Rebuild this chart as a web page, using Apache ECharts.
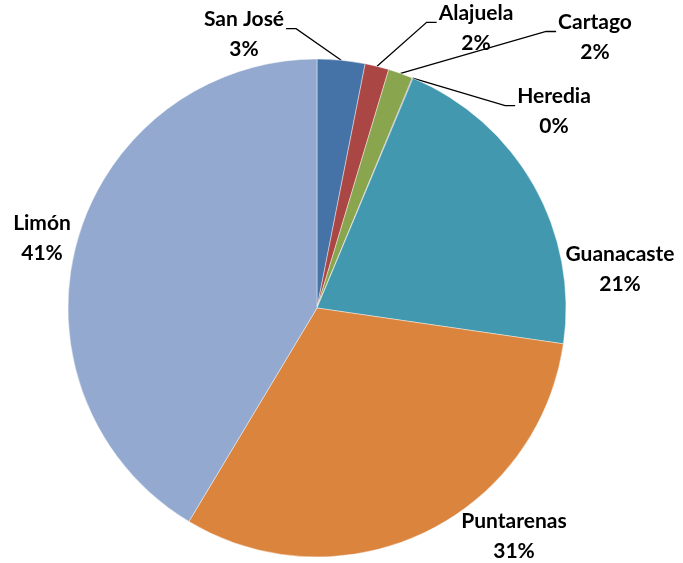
<!DOCTYPE html>
<html><head><meta charset="utf-8">
<script src="https://cdn.jsdelivr.net/npm/echarts@6/dist/echarts.min.js"></script>
<style>html,body{margin:0;padding:0;background:#fff}#c{width:683px;height:563px}</style>
</head><body><div id="c"></div>
<script>
const categories = ['San José', 'Alajuela', 'Cartago', 'Heredia', 'Guanacaste', 'Puntarenas', 'Limón'];
const values = [3.1, 1.55, 1.6, 0.05, 21.0, 31.3, 41.4];
const colors = ['#4572A7', '#AA4643', '#89A54E', '#71588F', '#4198AF', '#DB843D', '#93A9CF'];
const hasLeader = [true, true, true, true, false, false, false];
// label centre positions (layout only)
const labelX = [244, 476, 595, 554, 620, 514, 42];
const labelY = [34.7, 28.3, 37.5, 111.7, 269.2, 536, 238.3];

const chart = echarts.init(document.getElementById('c'), null, {renderer: 'canvas'});
const seriesData = categories.map((name, i) => ({
  name: name,
  value: values[i],
  itemStyle: {color: colors[i]},
  labelLine: {show: hasLeader[i]}
}));
chart.setOption({
  animation: false,
  series: [{
    type: 'pie',
    center: [317, 308],
    radius: 249,
    startAngle: 90,
    clockwise: true,
    avoidLabelOverlap: false,
    data: seriesData,
    itemStyle: {borderColor: 'rgba(255,255,255,0.7)', borderWidth: 0.6},
    label: {
      show: true, position: 'outside',
      formatter: p => p.name + '\n' + Math.round(p.percent) + '%',
      fontFamily: 'Lato', fontWeight: 'bold', fontSize: 21, lineHeight: 30,
      color: '#000', align: 'center'
    },
    labelLine: {show: true, length: 10, length2: 10, lineStyle: {color: '#000', width: 1.3}},
    emphasis: {disabled: true},
    labelLayout: function (p) {
      const i = p.dataIndex;
      const x = labelX[i], y = labelY[i];
      const res = {x: x, y: y, align: 'center', verticalAlign: 'middle'};
      if (hasLeader[i] && p.labelLinePoints) {
        const w = p.labelRect.width;
        const p0 = p.labelLinePoints[0];
        const leftSide = x < p0[0];
        const ey = y - 6;
        const ex = leftSide ? x + w / 2 + 2 : x - w / 2 - 2;
        const bx = leftSide ? ex + 10 : ex - 10;
        res.labelLinePoints = [p0, [bx, ey], [ex, ey]];
      }
      return res;
    }
  }]
});
</script></body></html>
